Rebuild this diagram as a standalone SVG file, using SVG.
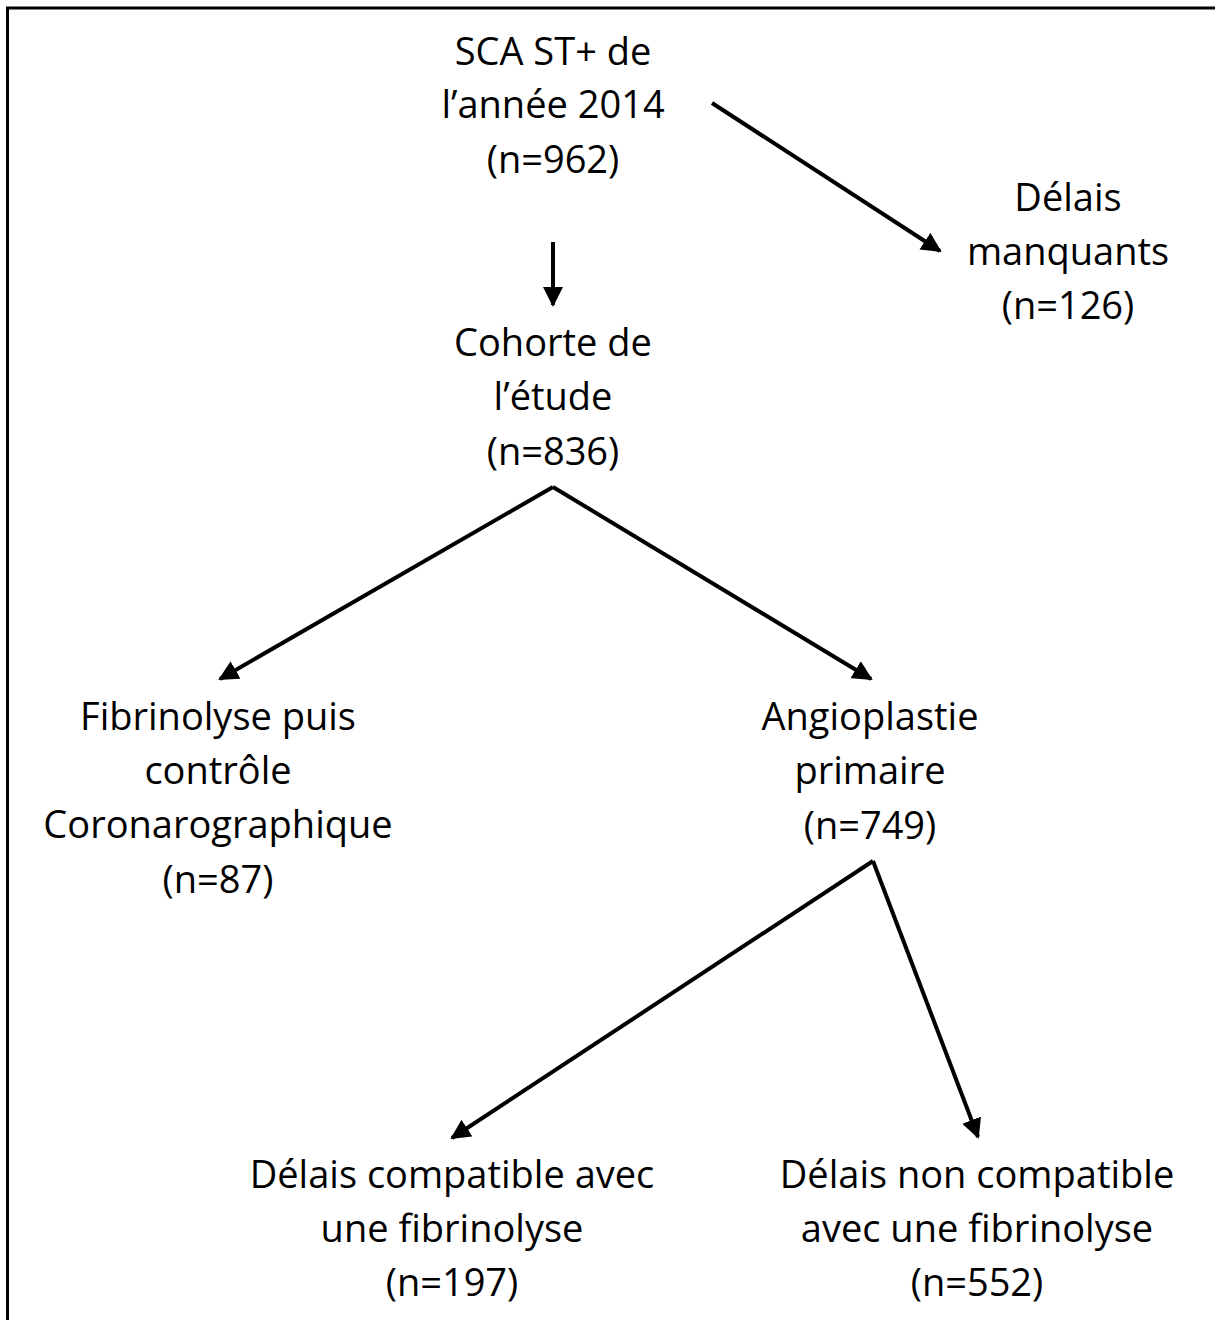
<svg xmlns="http://www.w3.org/2000/svg" width="1215" height="1320" viewBox="0 0 1215 1320">
<style>
text{font-family:"Open Sans","Liberation Sans",sans-serif;font-size:38px;fill:#000;text-anchor:middle}
.c{stroke:#000;stroke-width:4;fill:none}
</style>
<defs>
<marker id="a" viewBox="0 0 10 10" refX="9" refY="5" markerWidth="5" markerHeight="5" orient="auto" markerUnits="strokeWidth">
<path d="M0,0 L10,5 L0,10 z" fill="#000"/>
</marker>
</defs>
<rect x="7.5" y="8" width="1230" height="1340" fill="#fff" stroke="#000" stroke-width="3"/>
<g id="connectors">
<path class="c" d="M553,242 L553,305" marker-end="url(#a)"/>
<path class="c" d="M712,103 L940,251" marker-end="url(#a)"/>
<path class="c" d="M553,487 L220,679" marker-end="url(#a)"/>
<path class="c" d="M553,487 L871,679" marker-end="url(#a)"/>
<path class="c" d="M873,861 L452,1138" marker-end="url(#a)"/>
<path class="c" d="M873,861 L978,1137" marker-end="url(#a)"/>
</g>
<g id="n1"><text x="553" y="65">SCA ST+ de</text><text x="553" y="118">l’année 2014</text><text x="553" y="173">(n=962)</text></g>
<g id="n2"><text x="1068" y="211">Délais</text><text x="1068" y="265">manquants</text><text x="1068" y="319">(n=126)</text></g>
<g id="n3"><text x="553" y="356">Cohorte de</text><text x="553" y="410">l’étude</text><text x="553" y="465">(n=836)</text></g>
<g id="n4"><text x="218" y="730">Fibrinolyse puis</text><text x="218" y="784">contrôle</text><text x="218" y="838">Coronarographique</text><text x="218" y="893">(n=87)</text></g>
<g id="n5"><text x="870" y="730">Angioplastie</text><text x="870" y="784">primaire</text><text x="870" y="839">(n=749)</text></g>
<g id="n6"><text x="452" y="1188">Délais compatible avec</text><text x="452" y="1242">une fibrinolyse</text><text x="452" y="1296">(n=197)</text></g>
<g id="n7"><text x="977" y="1188">Délais non compatible</text><text x="977" y="1242">avec une fibrinolyse</text><text x="977" y="1296">(n=552)</text></g>
</svg>
